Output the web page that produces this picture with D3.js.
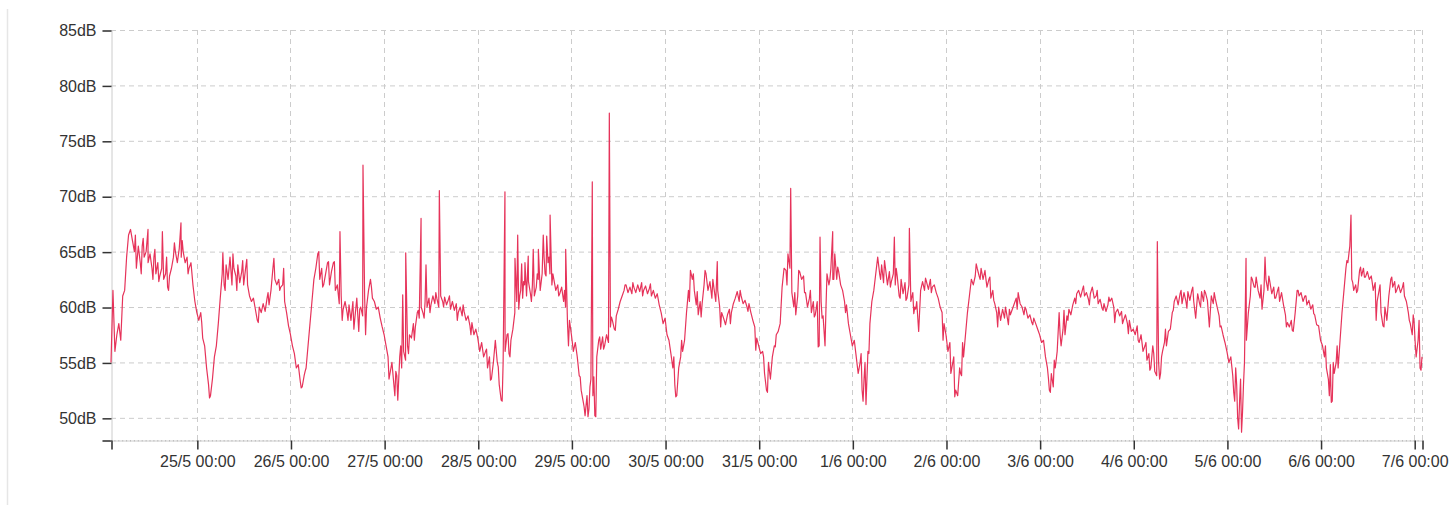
<!DOCTYPE html>
<html><head><meta charset="utf-8">
<script src="https://cdn.jsdelivr.net/npm/d3@7"></script>
<style>
html,body{margin:0;padding:0;background:#fff;}
svg{display:block;font-family:"Liberation Sans",Arial,sans-serif;}
</style></head><body>
<svg id="chart" width="1452" height="505"></svg>
<script>
// ---- data (30-minute noise levels, dB) ----
const domainStart = "2023-05-24T02:00";
const domainEnd = "2023-06-07T02:00";
const stepMinutes = 30;
const day24_5 = [55,61.5,56,57.5,58.5,57,61,61.5,64.5,66.5,67,66,65,63.5,65.5,64,65.5,64.5,65,64,64.8,63.5,64.5,63,64,62.8,63.5,62.5,63,61.8,62.8,63.5,64.5,65,64,65.3,64.5,65,64,64.5,63.5,64,62,60.5];
const day25_5 = [59.5,58.8,59.5,57.2,56.5,54.5,53,52,53.5,55.5,56.5,58.5,60.8,63,62,63.8,62.5,64.5,62,63.5,62.8,63.8,62.2,63.2,62,63.5,62,61,60.5,60.8,59.8,58.8,60,59.5,60.3,59.6,60.8,60.2,61.5,63.5,62.5,62,62.5,61.8,62,60.5,59.5,58.3];
const day26_5 = [57.5,56.5,55.8,54.5,54.8,53.3,52.8,53.8,54.5,56.5,58.5,60.5,62.5,63.5,64.8,62.5,63.5,62,63,64,62,63.2,64,61.5,62,60.3,61,59.8,60.5,59.5,60.2,58.8,60.5,59,60.8,57.8,60,59.2,61,60,61.5,62.5,60.8,60.5,59.8,60,59,58.2];
const day27_5 = [57.5,56.5,55.5,54,55,53,54.2,51.6,55.5,54.5,56,55.2,56.5,57.5,57.2,58.5,58.2,59.5,59,60,59.4,60.5,60,60.8,60.2,61,60.3,60.8,60,61,60.5,60.9,60.2,60.7,59.8,60.5,59.7,60.3,59.5,60,59.2,59.6,58.8,59.2,58.3,58.6,57.5,58];
const day28_5 = [57.2,56,56.8,55.5,56,54.5,55.5,53.5,55,57,55,53,51.6,55,56,57.5,55.8,57,58,59.5,60.5,59.8,61.5,60.8,62,61,62.3,61.2,62,61,61.8,62.5,61.5,63,64.5,62.8,64,63,62,62.5,61.5,62,61.2,61.8,60.5,60,58.5,58.8];
const day29_5 = [57.5,56,56.8,55.5,53.8,52.5,51.5,50.2,52,50.8,53.5,52,50.2,55.5,57,56.2,57.3,56.5,57.5,56.8,58.2,58.8,58,59.2,59.8,60.5,61,61.5,62,61.3,61.8,61.2,61.8,61.3,62,61.4,62.2,61.5,61.9,61.2,61.7,61,61.5,60.8,61.2,60.2,59.5,58.5];
const day30_5 = [59,57.5,57,55.8,54.5,53,52,54.5,55.5,56,57,59.5,61.5,63.3,62.5,61.5,60.2,59.3,60.5,60.3,62,63,61.5,62.3,60.8,61.8,60.5,61.5,60,59.5,59,58.4,59.3,59.8,59.5,60.3,60.8,61.4,60.5,61,60.3,60.6,60,60.3,59.5,58.8,58.2,57.2];
const day31_5 = [56.5,55.8,56,54,52.5,55,53.5,55.5,56.5,57.5,57.8,58.5,61.8,63.5,63.3,64.8,63.5,61.3,60,59.3,61,63.2,62.5,62.8,61.3,60,60.8,59.5,60.5,59.3,60.5,56.5,60.5,59.2,56.5,63,62,63.5,62.5,64.8,62.5,63.2,62,61.5,60.5,60.2,58.5,57.5];
const day1_6 = [56.5,57,55.5,54,55,52.5,53.5,51.2,56,58.5,60.5,61.5,63,64.5,63,63.8,62.2,63.5,62,63.2,62.3,63,62,62.8,61,62.5,61.2,62.2,60.8,62,60.5,61.3,60,60.5,57.8,61.5,62.3,61.5,62.3,61.6,62.5,61.8,62,61.3,60.8,60,59.5,58.5];
const day2_6 = [57.5,56,56.8,54.5,55.5,52.5,52,54.5,53.8,55.5,57.5,59.5,61,62.5,62,62.8,63.5,62.8,63.5,62.5,63.3,61.8,62.5,60.8,61.5,60.3,59.5,60,58.8,59.8,59,59.5,58.4,59.3,59.8,60.3,60.8,61.3,60.3,60,59.3,59.8,59,59.3,58.6,59,58.5,58];
const day3_6 = [57.5,56.8,57,55.5,54.5,52.5,54,52.8,54.5,56,59.5,56.5,58,57.5,59.2,59.8,59.3,60.2,60.8,61.2,61.5,60.9,61.6,61,61.3,60.7,61.2,61.8,60.8,61,60.3,60.7,59.9,60.3,59.6,60.2,60.5,60.8,60,59.5,59.8,59.2,59.6,58.8,59.3,58.5,58.8,57.8];
const day4_6 = [58,57.5,58.3,56.8,57.5,56,56.5,55.2,55.8,54.5,56.5,54.2,53.8,55,54,56,56.8,56.5,57.8,58,59.5,60.5,61,60.2,61.2,60.3,61.3,60.5,61.4,60.6,61.5,60.5,59,61.2,60.3,61.4,60.5,61.3,60.6,58.2,61,60.3,60.8,60,59.2,58.3,57.5,56.8];
const day5_6 = [56,55,55.5,53.8,51.5,53,49,53.5,50.5,55,57,59.5,61,62.5,61.8,62.7,61.5,60.8,59.8,61.5,62.5,61.5,62.3,61.2,61.8,60.8,61.5,60.5,61.3,60.2,59.3,58.6,58.2,58.8,57.8,59.5,61.5,61,61.3,60.5,61,60.2,60.6,59.8,60.2,59.3,58.4,58.3];
const day6_6 = [57,56.5,55.5,54.5,53.5,54.8,51.5,54,55,54.5,57,59.5,61.5,63.5,64,65.5,62.5,61.5,62,61.5,63.3,62.8,63.5,62.7,63.2,62.5,62.8,61.5,62.2,60.5,61.5,59.5,58.3,60,58.8,61,62.5,61.8,62.3,61.5,62,61.3,61.8,61,60.5,59.5,58.5,57.5];
const day7_6 = [58.5,55.5,57,54.5,55.5];
const dayStarts = ["2023-05-24T02:00","2023-05-25T00:00","2023-05-26T00:00","2023-05-27T00:00","2023-05-28T00:00","2023-05-29T00:00","2023-05-30T00:00","2023-05-31T00:00","2023-06-01T00:00","2023-06-02T00:00","2023-06-03T00:00","2023-06-04T00:00","2023-06-05T00:00","2023-06-06T00:00","2023-06-07T00:00"];
const dayLevels = [day24_5,day25_5,day26_5,day27_5,day28_5,day29_5,day30_5,day31_5,day1_6,day2_6,day3_6,day4_6,day5_6,day6_6,day7_6];
// short peaks (time, dB)
const peaks = [["2023-05-24T11:29",67],["2023-05-24T15:10",66.8],["2023-05-24T19:56",67.6],
["2023-05-25T06:40",64.9],["2023-05-25T12:48",64.3],
["2023-05-26T12:41",66.8],["2023-05-26T18:35",72.8],
["2023-05-27T04:46",61.1],["2023-05-27T05:32",64.9],["2023-05-27T09:28",68],["2023-05-27T10:44",63.8],["2023-05-27T14:09",70.5],
["2023-05-28T06:58",70.4],["2023-05-28T09:32",64.4],["2023-05-28T10:14",66.5],["2023-05-28T11:15",63.9],["2023-05-28T12:06",64],["2023-05-28T12:56",64.6],["2023-05-28T14:13",65.2],["2023-05-28T15:32",65.2],["2023-05-28T16:47",66.5],["2023-05-28T17:40",66.4],["2023-05-28T18:32",68.3],["2023-05-28T22:32",65.2],
["2023-05-29T05:21",71.3],["2023-05-29T09:43",77.5],
["2023-05-30T13:23",64.1],
["2023-05-31T08:12",70.7],["2023-05-31T15:43",66.3],["2023-05-31T18:58",66.8],
["2023-06-01T10:46",66.3],["2023-06-01T14:37",67.1],
["2023-06-04T06:10",65.9],
["2023-06-05T04:54",64.4],["2023-06-05T09:46",64.5],
["2023-06-06T07:48",68.3]];
// short in-between swings (time, dB)
const swings = [
["2023-05-24T08:15",66.5],["2023-05-24T09:45",63],["2023-05-24T10:15",66.2],["2023-05-24T12:45",62.5],["2023-05-24T13:15",65.2],["2023-05-24T14:15",62.3],["2023-05-24T16:15",64.5],["2023-05-24T16:45",61.5],["2023-05-24T18:15",65.8],["2023-05-24T20:15",66],["2023-05-24T21:45",63],
["2023-05-25T01:15",58.6],["2023-05-25T02:15",55.5],["2023-05-25T03:15",51.8],["2023-05-25T07:15",61.5],["2023-05-25T09:15",64.8],["2023-05-25T10:15",61.5],["2023-05-25T11:45",64.2],["2023-05-25T15:45",58.6],["2023-05-25T18:15",61.3],["2023-05-25T19:45",64.4],["2023-05-25T21:15",61.5],["2023-05-25T22:15",63.5],
["2023-05-26T02:45",52.7],["2023-05-26T03:45",54.2],["2023-05-26T07:15",65],["2023-05-26T08:15",61.8],["2023-05-26T09:45",64.1],["2023-05-26T11:15",64.1],["2023-05-26T13:15",58.8],["2023-05-26T14:45",58.8],["2023-05-26T16:15",58],["2023-05-26T17:45",59.8],["2023-05-26T19:15",57.5],["2023-05-26T20:45",61.8],
["2023-05-27T01:15",53.5],["2023-05-27T02:45",52],["2023-05-27T03:15",53.8],["2023-05-27T04:15",56.5],["2023-05-27T06:15",55.8],["2023-05-27T07:45",57],["2023-05-27T08:45",59.7],["2023-05-27T10:15",59],["2023-05-27T11:45",59.5],["2023-05-27T13:15",61.3],["2023-05-27T15:15",60],["2023-05-27T16:45",61],["2023-05-27T18:45",58.8],["2023-05-27T20:15",60.2],["2023-05-27T22:15",57.5],
["2023-05-28T02:15",56.2],["2023-05-28T03:15",53.4],["2023-05-28T05:15",54.6],["2023-05-28T06:15",51.5],["2023-05-28T07:45",57.6],["2023-05-28T08:15",55.5],["2023-05-28T10:45",61],["2023-05-28T11:45",62.3],["2023-05-28T13:45",60.5],["2023-05-28T15:15",63],["2023-05-28T17:15",63],["2023-05-28T18:15",64.5],["2023-05-28T19:15",63],["2023-05-28T20:45",61],["2023-05-28T22:15",61.5],["2023-05-28T23:15",56.5],
["2023-05-29T02:15",53.7],["2023-05-29T03:15",51],["2023-05-29T04:15",50.1],["2023-05-29T04:45",52.8],["2023-05-29T05:45",53.7],["2023-05-29T06:15",50.1],["2023-05-29T07:15",57.3],["2023-05-29T08:15",56.2],["2023-05-29T10:15",59.1],["2023-05-29T11:15",57.9],["2023-05-29T13:45",62],["2023-05-29T15:45",62.2],["2023-05-29T18:15",61],["2023-05-29T20:15",62.1],
["2023-05-30T02:15",55.5],["2023-05-30T02:45",51.9],["2023-05-30T04:15",57],["2023-05-30T06:15",60.5],["2023-05-30T07:15",63],["2023-05-30T08:15",61.4],["2023-05-30T09:15",59.1],["2023-05-30T10:15",63.3],["2023-05-30T12:15",62.5],["2023-05-30T14:15",58.2],["2023-05-30T16:45",58.5],["2023-05-30T19:15",61.5],["2023-05-30T21:15",59.6],["2023-05-30T23:15",56.1],
["2023-05-31T01:15",55.5],["2023-05-31T02:15",52.3],["2023-05-31T03:15",54.5],["2023-05-31T04:15",56.4],["2023-05-31T07:15",62],["2023-05-31T09:15",61.3],["2023-05-31T10:15",63.3],["2023-05-31T11:45",61.3],["2023-05-31T13:15",61.5],["2023-05-31T14:15",59.1],["2023-05-31T15:15",56.4],["2023-05-31T16:15",59],["2023-05-31T17:15",60],["2023-05-31T18:15",62.5],["2023-05-31T19:15",62.5],["2023-05-31T20:15",63.6],["2023-05-31T22:15",59.5],
["2023-06-01T02:15",55.8],["2023-06-01T02:45",51.5],["2023-06-01T03:15",55],["2023-06-01T04:15",55.8],["2023-06-01T07:15",62.5],["2023-06-01T08:15",64.2],["2023-06-01T09:45",61.8],["2023-06-01T11:15",63.5],["2023-06-01T12:15",60.8],["2023-06-01T13:45",60.6],["2023-06-01T15:45",59.4],["2023-06-01T16:15",59.8],["2023-06-01T18:45",62.6],["2023-06-01T20:15",61.3],["2023-06-01T23:15",57],
["2023-06-02T01:15",54],["2023-06-02T02:15",51.9],["2023-06-02T03:45",54],["2023-06-02T04:15",56.8],["2023-06-02T07:45",63.9],["2023-06-02T08:45",62.5],["2023-06-02T10:15",62.5],["2023-06-02T11:15",62.7],["2023-06-02T12:15",60.6],["2023-06-02T13:15",58.2],["2023-06-02T15:15",60],["2023-06-02T16:15",59.8],["2023-06-02T18:15",59.8],["2023-06-02T20:15",60],["2023-06-02T22:15",58.4],
["2023-06-03T02:15",53.6],["2023-06-03T02:45",52.3],["2023-06-03T03:45",55.2],["2023-06-03T05:15",57.5],["2023-06-03T06:15",59.7],["2023-06-03T07:15",58.8],["2023-06-03T09:15",60.3],["2023-06-03T11:15",61.9],["2023-06-03T12:45",60.2],["2023-06-03T14:45",61.5],["2023-06-03T16:15",59.7],["2023-06-03T17:45",60.9],["2023-06-03T19:15",58.6],["2023-06-03T21:15",58.5],["2023-06-03T22:45",57.6],
["2023-06-04T01:15",57],["2023-06-04T03:15",56.8],["2023-06-04T04:15",54.3],["2023-06-04T05:15",55.8],["2023-06-04T06:45",53.5],["2023-06-04T07:15",55.5],["2023-06-04T08:15",58],["2023-06-04T10:15",59.7],["2023-06-04T12:15",61.5],["2023-06-04T13:45",59.9],["2023-06-04T15:15",61.8],["2023-06-04T17:15",60],["2023-06-04T18:15",61.5],["2023-06-04T20:45",61.3],["2023-06-04T22:15",58.2],
["2023-06-05T01:45",52.3],["2023-06-05T02:15",54.5],["2023-06-05T02:45",50],["2023-06-05T03:15",51.5],["2023-06-05T03:45",48.7],["2023-06-05T04:15",53],["2023-06-05T06:15",62.7],["2023-06-05T07:15",61.8],["2023-06-05T08:45",62],["2023-06-05T10:45",62.8],["2023-06-05T12:15",60.8],["2023-06-05T13:15",61.8],["2023-06-05T15:15",58.2],["2023-06-05T16:45",57.9],["2023-06-05T18:15",61.5],["2023-06-05T20:15",61],["2023-06-05T22:15",59.4],
["2023-06-06T01:15",56.5],["2023-06-06T02:15",52],["2023-06-06T02:45",51.4],["2023-06-06T03:15",55],["2023-06-06T04:15",56.5],["2023-06-06T06:45",64.2],["2023-06-06T08:15",62.2],["2023-06-06T09:15",61.3],["2023-06-06T10:15",63.6],["2023-06-06T11:15",62.7],["2023-06-06T13:15",62.2],["2023-06-06T14:15",58.8],["2023-06-06T15:15",62],["2023-06-06T16:15",58.2],["2023-06-06T18:15",62.7],["2023-06-06T19:15",61.3],["2023-06-06T21:15",62.2],["2023-06-06T22:45",58.8],["2023-06-06T23:45",59.3],
["2023-06-07T00:15",56.8],["2023-06-07T01:15",58.8],["2023-06-07T01:45",54.3]];
const yTicks = [50,55,60,65,70,75,80,85];
const yDomain = [48,85];
const xTickDays = ["2023-05-25T00:00","2023-05-26T00:00","2023-05-27T00:00","2023-05-28T00:00","2023-05-29T00:00","2023-05-30T00:00","2023-05-31T00:00","2023-06-01T00:00","2023-06-02T00:00","2023-06-03T00:00","2023-06-04T00:00","2023-06-05T00:00","2023-06-06T00:00","2023-06-07T00:00"];

// ---- build series ----
const parse = s => new Date(s);
let series = [];
dayLevels.forEach((arr, i) => {
  const t0 = parse(dayStarts[i]).getTime();
  arr.forEach((v, j) => series.push({t: new Date(t0 + j*stepMinutes*60000), v}));
});
peaks.concat(swings).forEach(p => series.push({t: parse(p[0]), v: p[1]}));
series.sort((a,b) => a.t - b.t);

// ---- chart ----
const svg = d3.select("#chart");
const mLeft = 111, mRight = 1422, mTop = 30, mBottom = 440;
const x = d3.scaleTime().domain([parse(domainStart), parse(domainEnd)]).range([mLeft, mRight]);
const y = d3.scaleLinear().domain(yDomain).range([mBottom, mTop]);
const fmt = d3.timeFormat("%-d/%-m %H:%M");

// frame line at left
svg.append("line").attr("x1",7.5).attr("x2",7.5).attr("y1",9).attr("y2",505)
  .attr("stroke","#e6e6e6").attr("stroke-width",1.5);

// grid
const grid = svg.append("g");
grid.selectAll("line.h").data(yTicks).join("line")
  .attr("x1",mLeft).attr("x2",mRight).attr("y1",d=>y(d)+0.5).attr("y2",d=>y(d)+0.5)
  .attr("stroke","#cccccc").attr("stroke-dasharray","5,4");
const vGrid = xTickDays.map(parse).concat([parse(domainEnd)]);
grid.selectAll("line.v").data(vGrid).join("line")
  .attr("x1",d=>Math.round(x(d))+0.5).attr("x2",d=>Math.round(x(d))+0.5).attr("y1",mTop).attr("y2",mBottom)
  .attr("stroke","#cccccc").attr("stroke-dasharray","5,4");

// y axis
const yAxis = d3.axisLeft(y).tickValues(yTicks.concat([yDomain[0]])).tickSize(9).tickPadding(6)
  .tickFormat(d => d===yDomain[0] ? "" : d + "dB");
const gy = svg.append("g").attr("transform",`translate(${mLeft+0.5},0.5)`).call(yAxis);
gy.select(".domain").attr("stroke","#cccccc");
gy.selectAll(".tick line").attr("stroke","#333").attr("stroke-width",1.5);
gy.selectAll(".tick text").attr("fill","#333").style("font-size","16px");

// x axis: hourly minor ticks
const hours = d3.timeHour.range(parse(domainStart), parse(domainEnd));
svg.append("g").selectAll("line").data(hours).join("line")
  .attr("x1",d=>x(d)).attr("x2",d=>x(d)).attr("y1",mBottom).attr("y2",mBottom+1.5)
  .attr("stroke","#999").attr("stroke-width",0.8);
const xAxis = d3.axisBottom(x)
  .tickValues([parse(domainStart)].concat(xTickDays.map(parse)).concat([parse(domainEnd)]))
  .tickSize(9).tickPadding(6)
  .tickFormat(d => (+d===+parse(domainStart) || +d===+parse(domainEnd)) ? "" : fmt(d));
const gx = svg.append("g").attr("transform",`translate(0.5,${mBottom+0.5})`).call(xAxis);
gx.select(".domain").attr("stroke","#cccccc");
gx.selectAll(".tick line").attr("stroke","#333").attr("stroke-width",1.5);
gx.selectAll(".tick text").attr("fill","#333").style("font-size","16px");

// line
const line = d3.line().x(d=>x(d.t)).y(d=>y(d.v));
svg.append("path").datum(series).attr("d",line)
  .attr("fill","none").attr("stroke","#e6335a").attr("stroke-width",1.2).attr("stroke-linejoin","round");
</script>
</body></html>
